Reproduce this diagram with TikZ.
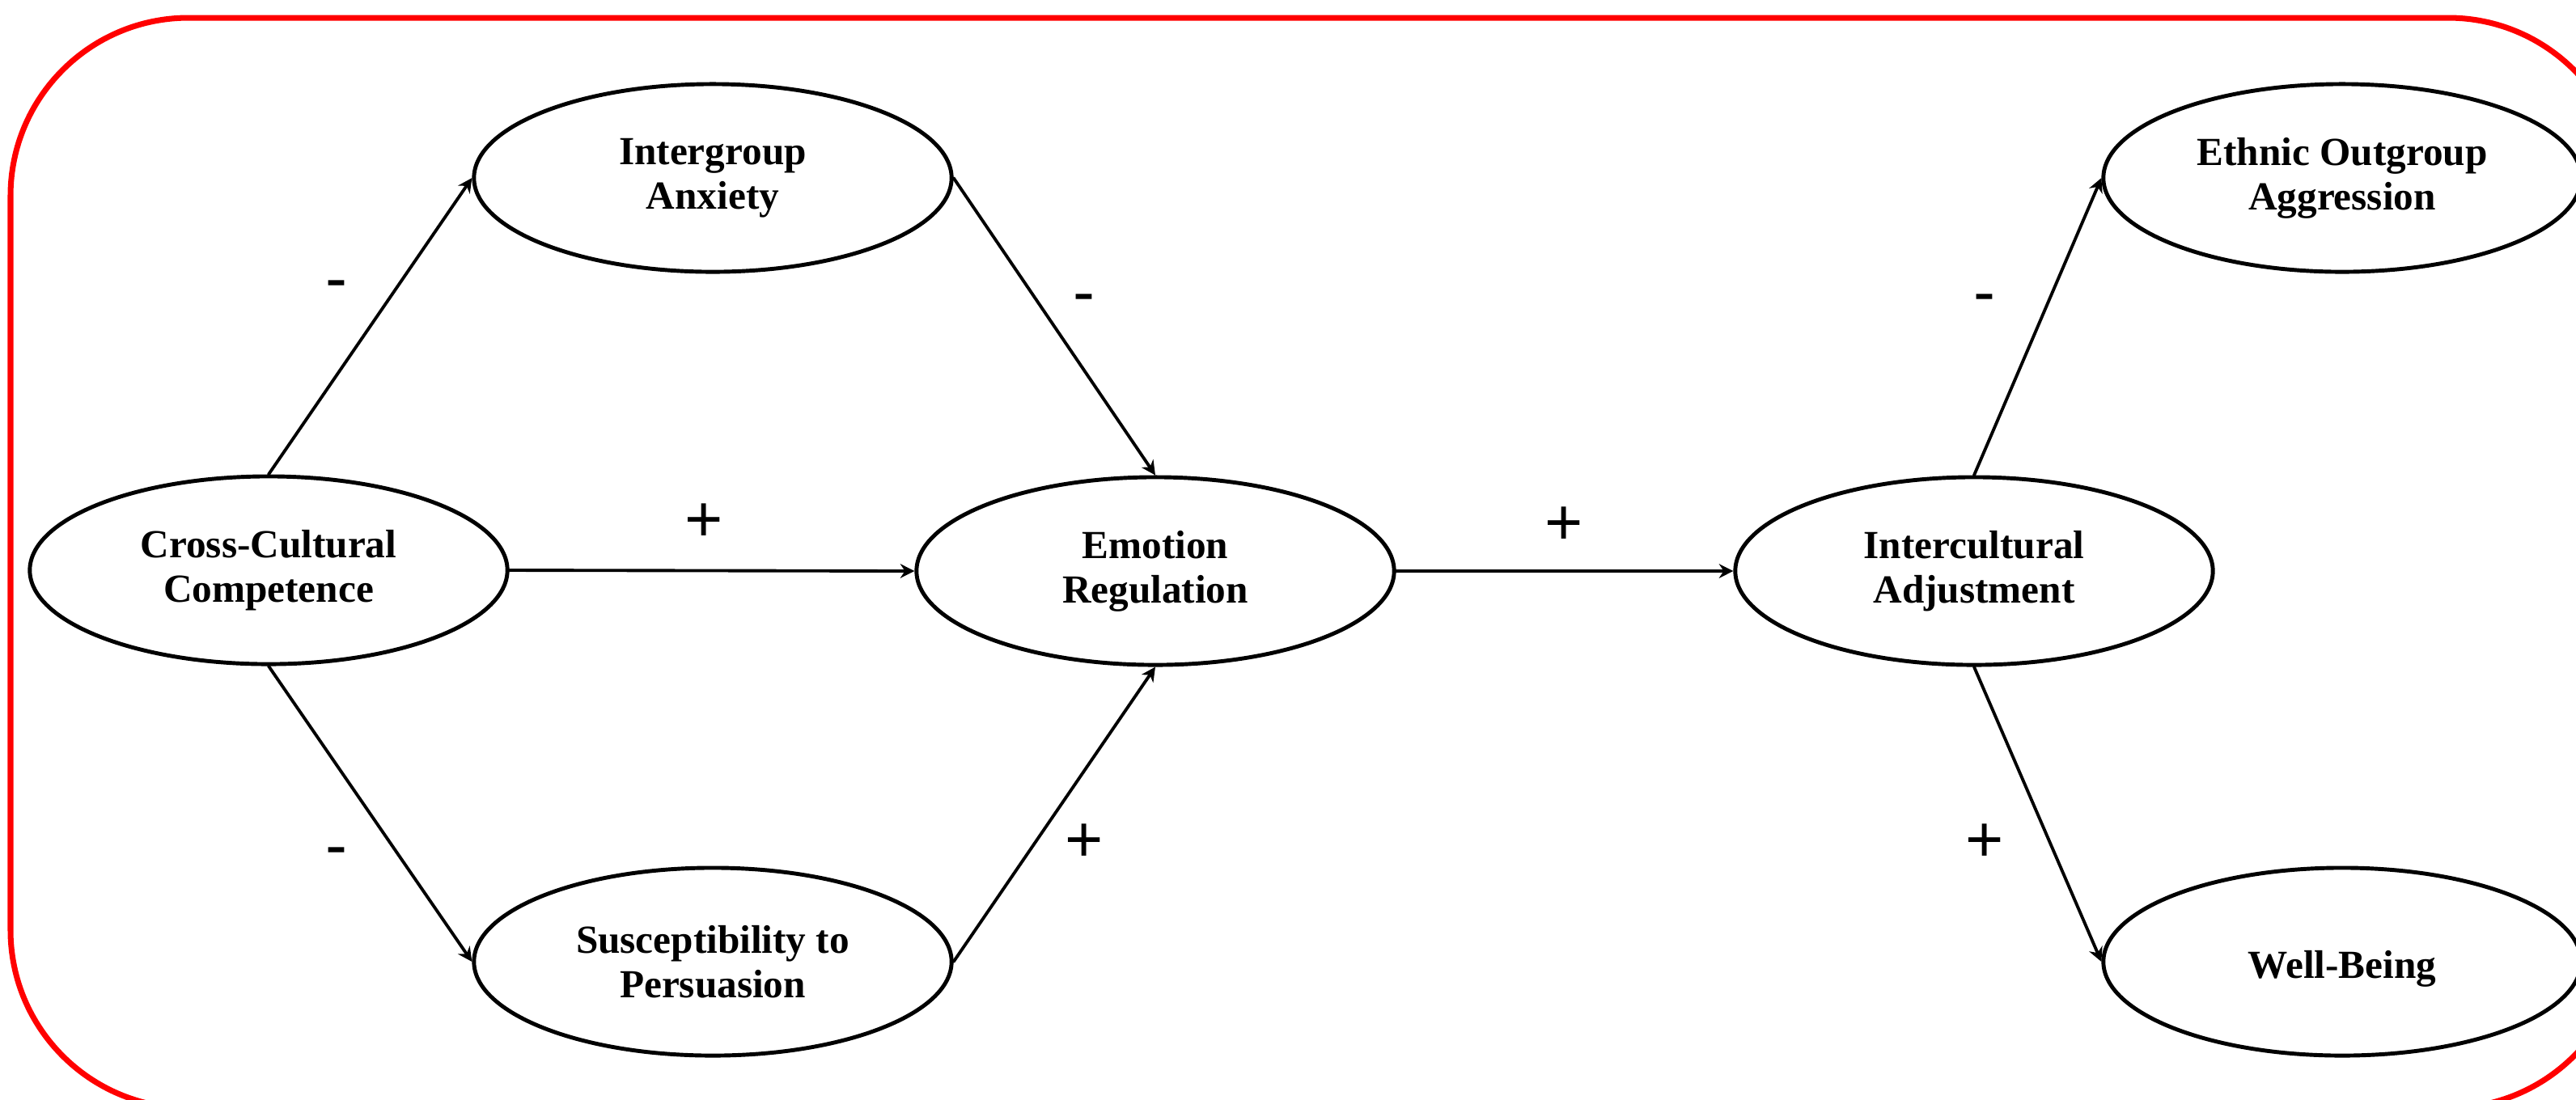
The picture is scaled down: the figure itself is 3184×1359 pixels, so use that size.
\documentclass[tikz,border=0pt]{standalone}
\usepackage{fontspec}
\setmainfont{Liberation Serif}
\newfontfamily\signfont{Liberation Sans}
\usetikzlibrary{arrows.meta,shapes.geometric}
\begin{document}
\begin{tikzpicture}[x=0.01cm, y=-0.01cm, line join=round, line cap=round, >={Stealth[length=5pt,width=5pt]},
  bien/.style={draw, ellipse, line width=1.4pt, minimum width=5.9cm, minimum height=2.32cm, inner sep=0pt, align=center, font=\fontsize{14}{15.6}\selectfont\bfseries, execute at begin node={\rule{0pt}{14.5pt}}},
  dau/.style={font=\signfont\fontsize{23}{23}\selectfont, inner sep=0pt}]
  \useasboundingbox (0,0) rectangle (3184,1359);
  \begin{scope}
    \clip (0,0) rectangle (3184,1359);
    \draw[red, line width=2pt, rounded corners=2.2cm] (13,22) rectangle (3246,1370);
  \end{scope}
  % cac bien
  \node[bien] (ccc) at (332,705) {Cross-Cultural\\Competence};
  \node[bien] (ia) at (881,220) {Intergroup\\Anxiety};
  \node[bien] (sp) at (881,1189) {Susceptibility to\\Persuasion};
  \node[bien] (er) at (1428,706) {Emotion\\Regulation};
  \node[bien] (ica) at (2440,706) {Intercultural\\Adjustment};
  \node[bien] (eoa) at (2895,220) {Ethnic Outgroup\\Aggression};
  \node[bien] (wb) at (2895,1189) {Well-Being};
  % cac duong noi
  \begin{scope}[line width=1.1pt]
    \draw[->] (ccc.north) -- (ia.west);
    \draw[->] (ccc.east) -- (er.west);
    \draw[->] (ccc.south) -- (sp.west);
    \draw[->] (ia.east) -- (er.north);
    \draw[->] (sp.east) -- (er.south);
    \draw[->] (er.east) -- (ica.west);
    \draw[->] (ica.north) -- (eoa.west);
    \draw[->] (ica.south) -- (wb.west);
  \end{scope}
  % dau
  \foreach \x/\y/\kt [count=\i] in {416/359/-,1340/376/-,870/646/+,1933/650/+,416/1060/-,1340/1042/+,2453/376/-,2453/1042/+}
  \node[dau] (d\i) at (\x,\y) {\kt};
\end{tikzpicture}
\end{document}
